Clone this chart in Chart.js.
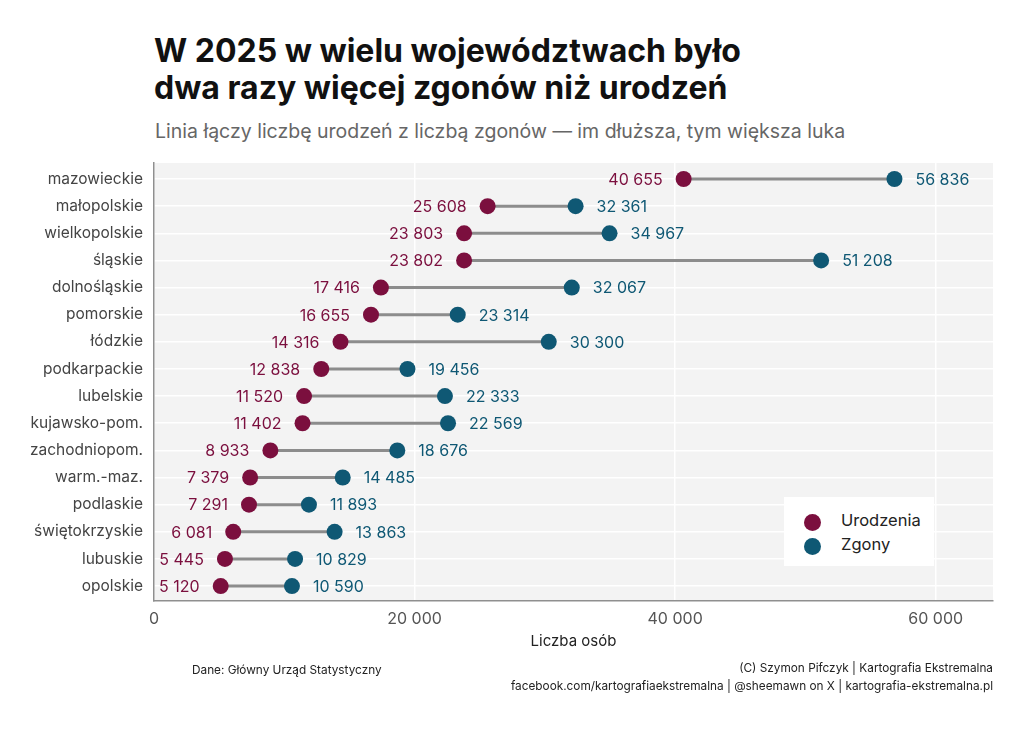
<!DOCTYPE html>
<html lang="pl">
<head>
    <meta charset="UTF-8">
    <title>Urodzenia i zgony 2025</title>
    <script src="https://cdn.jsdelivr.net/npm/chart.js"></script>
    <style>
        body {
            margin: 0;
            width: 1024px;
            height: 732px;
            background: #ffffff;
            position: relative;
            font-family: Inter, "Noto Sans", sans-serif;
            overflow: hidden;
        }
        #wrap { position: absolute; left: 0; top: 0; width: 1024px; height: 732px; }
        .title {
            position: absolute; left: 154px; top: 32px;
            font-size: 32px; font-weight: 700; line-height: 37px; color: #111;
        }
        .subtitle {
            position: absolute; left: 155px; top: 119px;
            font-size: 19.5px; color: #666;
        }
        .caption { position: absolute; font-size: 11.8px; color: #222; line-height: 18px; }
        .legend {
            position: absolute; left: 784px; top: 497px; width: 150px; height: 69px;
            background: #fff; font-size: 16.5px; color: #222;
        }
        .legend div { position: absolute; left: 57px; }
        .legend span {
            position: absolute; left: -37px; top: 4px; width: 17px; height: 17px; border-radius: 50%;
        }
    </style>
</head>
<body>
    <div class="title">W 2025 w wielu województwach było<br>dwa razy więcej zgonów niż urodzeń</div>
    <div class="subtitle">Linia łączy liczbę urodzeń z liczbą zgonów — im dłuższa, tym większa luka</div>

    <div id="wrap"><canvas id="myChart" width="1024" height="732"></canvas></div>

    <div class="legend">
        <div style="top: 13px;"><span style="background:#7b0f3e"></span>Urodzenia</div>
        <div style="top: 37px;"><span style="background:#0f5874"></span>Zgony</div>
    </div>

    <div class="caption" style="left: 192px; top: 661px;">Dane: Główny Urząd Statystyczny</div>
    <div class="caption" style="right: 31px; top: 659px; text-align: right;">(C) Szymon Pifczyk | Kartografia Ekstremalna<br>facebook.com/kartografiaekstremalna | @sheemawn on X | kartografia-ekstremalna.pl</div>

    <script>
        // Data
        const regions = ['mazowieckie', 'małopolskie', 'wielkopolskie', 'śląskie', 'dolnośląskie', 'pomorskie',
            'łódzkie', 'podkarpackie', 'lubelskie', 'kujawsko-pom.', 'zachodniopom.', 'warm.-maz.',
            'podlaskie', 'świętokrzyskie', 'lubuskie', 'opolskie'];
        const births = [40655, 25608, 23803, 23802, 17416, 16655, 14316, 12838, 11520, 11402, 8933, 7379, 7291, 6081, 5445, 5120];
        const deaths = [56836, 32361, 34967, 51208, 32067, 23314, 30300, 19456, 22333, 22569, 18676, 14485, 11893, 13863, 10829, 10590];
        const xTicks = [0, 20000, 40000, 60000];

        const birthColor = '#7b0f3e';
        const deathColor = '#0f5874';

        function fmt(v) {
            return String(v).replace(/\B(?=(\d{3})+(?!\d))/g, ' ');
        }

        // segments: pairs of points separated by gaps
        const segData = [];
        regions.forEach((r, i) => {
            segData.push({x: births[i], y: i}, {x: deaths[i], y: i}, {x: null, y: null});
        });

        // grey panel behind the plot
        const panelBg = {
            id: 'panelBg',
            beforeDraw(chart) {
                const a = chart.chartArea;
                const ctx = chart.ctx;
                ctx.save();
                ctx.fillStyle = '#f3f3f3';
                ctx.fillRect(a.left, a.top, a.right - a.left, a.bottom - a.top);
                ctx.restore();
            }
        };

        // value labels next to each dot
        const valueLabels = {
            id: 'valueLabels',
            afterDatasetsDraw(chart) {
                const ctx = chart.ctx;
                const xs = chart.scales.x, ys = chart.scales.y;
                ctx.save();
                ctx.font = '16px Inter, "Noto Sans", sans-serif';
                ctx.textBaseline = 'middle';
                regions.forEach((r, i) => {
                    const y = ys.getPixelForValue(i);
                    ctx.fillStyle = birthColor;
                    ctx.textAlign = 'right';
                    ctx.fillText(fmt(births[i]), xs.getPixelForValue(births[i]) - 21, y + 1);
                    ctx.fillStyle = deathColor;
                    ctx.textAlign = 'left';
                    ctx.fillText(fmt(deaths[i]), xs.getPixelForValue(deaths[i]) + 21, y + 1);
                });
                ctx.restore();
            }
        };

        const ctx = document.getElementById('myChart').getContext('2d');
        new Chart(ctx, {
            type: 'scatter',
            data: {
                datasets: [
                    {
                        label: 'Urodzenia',
                        data: births.map((v, i) => ({x: v, y: i})),
                        backgroundColor: birthColor,
                        borderColor: birthColor,
                        pointRadius: 8,
                        pointBorderWidth: 0,
                        order: 1
                    },
                    {
                        label: 'Zgony',
                        data: deaths.map((v, i) => ({x: v, y: i})),
                        backgroundColor: deathColor,
                        borderColor: deathColor,
                        pointRadius: 8,
                        pointBorderWidth: 0,
                        order: 2
                    },
                    {
                        type: 'line',
                        label: 'luka',
                        data: segData,
                        borderColor: '#8c8c8c',
                        borderWidth: 3,
                        pointRadius: 0,
                        spanGaps: false,
                        order: 3
                    }
                ]
            },
            options: {
                responsive: false,
                animation: false,
                layout: { padding: { left: 0, top: 163, right: 31, bottom: 78 } },
                plugins: {
                    legend: { display: false },
                    tooltip: { enabled: false }
                },
                scales: {
                    x: {
                        type: 'linear',
                        min: 0,
                        max: 64400,
                        afterBuildTicks(scale) {
                            scale.ticks = xTicks.map(v => ({value: v}));
                        },
                        afterFit(scale) { scale.height = 53; },
                        grid: { color: '#ffffff', lineWidth: 1.5, drawTicks: false },
                        border: { display: true, color: '#8f8f8f', width: 1.5 },
                        ticks: {
                            padding: 9,
                            color: '#555',
                            font: { size: 16, family: 'Inter, "Noto Sans", sans-serif' },
                            callback: v => fmt(v)
                        },
                        title: {
                            display: true,
                            text: 'Liczba osób',
                            color: '#222',
                            padding: { top: 4 },
                            font: { size: 15, family: 'Inter, "Noto Sans", sans-serif' }
                        }
                    },
                    y: {
                        type: 'linear',
                        reverse: true,
                        min: -0.59,
                        max: 15.55,
                        afterBuildTicks(scale) {
                            scale.ticks = regions.map((r, i) => ({value: i}));
                        },
                        afterFit(scale) { scale.width = 154; },
                        grid: { color: '#ffffff', lineWidth: 1.5, drawTicks: false },
                        border: { display: true, color: '#8f8f8f', width: 1.5 },
                        ticks: {
                            padding: 11,
                            color: '#444',
                            font: { size: 15.5, family: 'Inter, "Noto Sans", sans-serif' },
                            callback: v => regions[v]
                        }
                    }
                }
            },
            plugins: [panelBg, valueLabels]
        });
    </script>
</body>
</html>
